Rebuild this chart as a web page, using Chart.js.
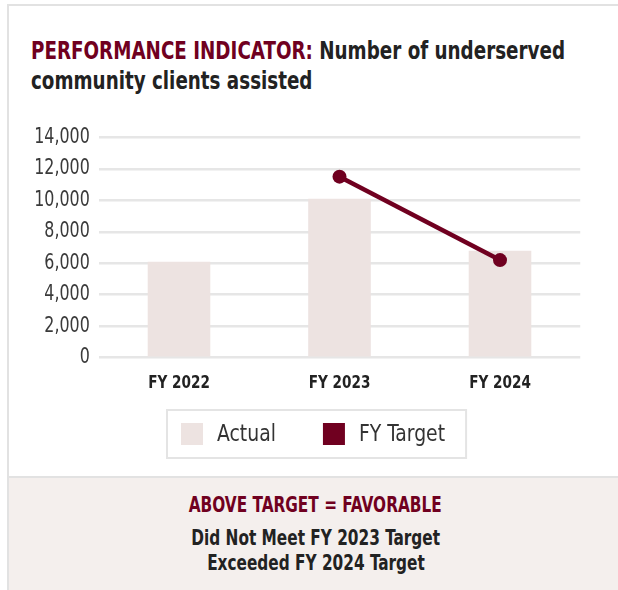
<!DOCTYPE html>
<html>
<head>
<meta charset="utf-8">
<script src="https://cdn.jsdelivr.net/npm/chart.js@4.4.1/dist/chart.umd.min.js"></script>
<style>
  html, body { margin: 0; padding: 0; background: #ffffff; }
  body { width: 618px; height: 590px; position: relative; overflow: hidden;
         font-family: "DejaVu Sans Condensed", "DejaVu Sans", sans-serif; }
  #card { position: absolute; left: 7px; top: 4px; width: 611px; height: 586px;
          border-left: 2px solid #e2e2e2; border-top: 2px solid #e2e2e2; box-sizing: border-box; background: #fff; }
  #title { position: absolute; left: 31px; top: 35px; font-size: 25.5px; font-weight: bold;
           line-height: 30px; color: #222; white-space: nowrap; transform-origin: left top; }
  #title .hl { color: #700020; }
  #chartBox { position: absolute; left: 9px; top: 110px; width: 609px; height: 360px; }
  #foot { position: absolute; left: 9px; top: 476px; width: 609px; height: 114px; background: #f4efed;
          border-top: 2px solid #e2e2e2; box-sizing: border-box; }
  .fl { position: absolute; left: 0; width: 613px; text-align: center; font-weight: bold; font-size: 20.5px;
        line-height: 24px; color: #222; white-space: nowrap; }
  .fl span { display: inline-block; transform-origin: center top; }
  .fl.red { color: #700020; }
</style>
</head>
<body>
<div id="card"></div>
<div id="title"><span id="l1"><span class="hl">PERFORMANCE INDICATOR:</span> Number of underserved</span><br>community clients assisted</div>
<div id="chartBox"><canvas id="c"></canvas></div>
<div id="foot">
  <div class="fl red" style="top:15px"><span id="f1">ABOVE TARGET = FAVORABLE</span></div>
  <div class="fl" style="top:48px"><span>Did Not Meet FY 2023 Target</span></div>
  <div class="fl" style="top:73px"><span>Exceeded FY 2024 Target</span></div>
</div>
<script>
const categories = ["FY 2022", "FY 2023", "FY 2024"];
const actualValues = [6100, 10100, 6800];
const targetValues = [null, 11500, 6200];
const yTicks = [0, 2000, 4000, 6000, 8000, 10000, 12000, 14000];

const DARK_RED = "#700020";
const BAR_COLOR = "#ede3e1";
const FONT = "'DejaVu Sans Condensed', 'DejaVu Sans', sans-serif";

// condense the available fonts horizontally to mimic the narrow typeface of the original
(function () {
  const t = document.getElementById("title");
  const w1 = document.getElementById("l1").getBoundingClientRect().width;
  t.style.transform = "scaleX(" + (534 / w1) + ")";
  const f1 = document.getElementById("f1").getBoundingClientRect().width;
  const k = 253 / f1;
  document.querySelectorAll(".fl span").forEach(s => { s.style.transform = "scaleX(" + k + ")"; });
})();

const canvas = document.getElementById("c");
const ctx2d = canvas.getContext("2d");
ctx2d.__condense = 0.84;
const origFillText = CanvasRenderingContext2D.prototype.fillText;
ctx2d.fillText = function (text, x, y, maxWidth) {
  const w = this.measureText(text).width * (this.__condense || 1);
  return origFillText.call(this, text, x, y, maxWidth !== undefined ? Math.min(maxWidth, w) : w);
};

const boxLegend = {
  id: "boxLegend",
  afterDraw(chart, args, opts) {
    const ctx = chart.ctx;
    ctx.save();
    const prev = ctx.__condense;
    ctx.__condense = opts.condense;
    ctx.font = opts.fontSize + "px " + FONT;
    const items = chart.data.datasets.map(ds => ({
      label: ds.label,
      color: ds.type === "line" ? ds.borderColor : ds.backgroundColor
    }));
    const widths = items.map(it => ctx.measureText(it.label).width * opts.condense);
    let total = opts.padL + opts.padR;
    items.forEach((it, i) => { total += opts.box + opts.gap + widths[i]; if (i > 0) total += opts.spacing; });
    const left = Math.round(chart.width / 2 - total / 2 + opts.shiftX);
    const top = chart.chartArea.bottom + opts.offsetY;
    ctx.strokeStyle = opts.borderColor;
    ctx.lineWidth = 2;
    ctx.strokeRect(left, top, total, opts.height);
    let x = left + opts.padL;
    const cy = top + opts.height / 2;
    items.forEach((it, i) => {
      if (i > 0) x += opts.spacing;
      ctx.fillStyle = it.color;
      ctx.fillRect(x, cy - opts.box / 2, opts.box, opts.box);
      x += opts.box + opts.gap;
      ctx.fillStyle = "#333";
      ctx.textBaseline = "middle";
      ctx.textAlign = "left";
      ctx.fillText(it.label, x, cy + 1);
      x += widths[i];
    });
    ctx.__condense = prev;
    ctx.restore();
  }
};

new Chart(canvas, {
  data: {
    labels: categories,
    datasets: [
      {
        type: "bar",
        label: "Actual",
        data: actualValues,
        backgroundColor: BAR_COLOR,
        barPercentage: 0.39,
        categoryPercentage: 1.0,
        order: 2
      },
      {
        type: "line",
        label: "FY Target",
        data: targetValues,
        borderColor: DARK_RED,
        backgroundColor: DARK_RED,
        borderWidth: 4.5,
        pointRadius: 7,
        pointHoverRadius: 7,
        pointBackgroundColor: DARK_RED,
        pointBorderWidth: 0,
        tension: 0,
        order: 1
      }
    ]
  },
  options: {
    responsive: true,
    maintainAspectRatio: false,
    animation: false,
    layout: { padding: { left: 0, right: 37.75, top: 27.3, bottom: 72.3 } },
    plugins: {
      legend: { display: false },
      tooltip: { enabled: false },
      boxLegend: { fontSize: 22.5, condense: 0.93, box: 22, gap: 14, spacing: 47, padL: 14, padR: 21,
                   height: 48, offsetY: 52.3, shiftX: 3.5, borderColor: "#e4e4e4" }
    },
    scales: {
      x: {
        grid: { display: false, drawTicks: false },
        border: { display: false },
        ticks: { color: "#222", font: { family: FONT, size: 18, weight: "bold" }, padding: 15 },
        afterFit(scale) { scale.height = 40; }
      },
      y: {
        min: 0,
        max: 14000,
        afterBuildTicks(scale) { scale.ticks = yTicks.map(v => ({ value: v })); },
        grid: { color: "#e6e6e6", lineWidth: 2.5, drawTicks: false },
        border: { display: false },
        ticks: {
          color: "#3a3a3a",
          font: { family: FONT, size: 21 },
          padding: 9,
          callback: v => v.toLocaleString("en-US")
        },
        afterFit(scale) { scale.width = 89.75; }
      }
    }
  },
  plugins: [boxLegend]
});
</script>
</body>
</html>
